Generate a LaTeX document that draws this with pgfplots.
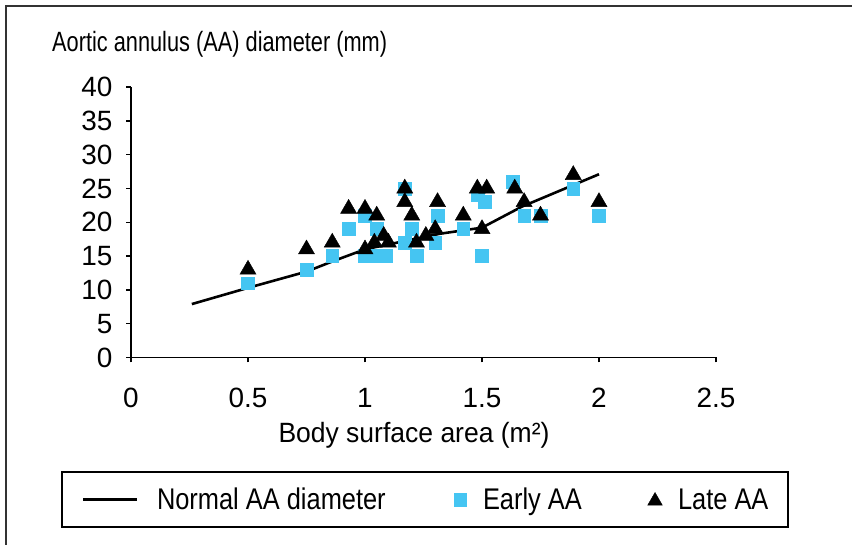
\documentclass[border=0pt]{standalone}
\usepackage{pgfplots}
\pgfplotsset{compat=1.18}
\usepackage{fontspec}
\setmainfont{Liberation Sans}
\newfontfamily\titlefont{Liberation Sans}[FakeStretch=0.78]
\newfontfamily\legfont{Liberation Sans}[FakeStretch=0.85]
\newfontfamily\labfont{Liberation Sans}[FakeStretch=0.95]
\definecolor{early}{RGB}{69,197,242}
\pgfplotsset{
 legline/.style={legend image code/.code={\path[draw=none] (0bp,-27.5bp) rectangle (95bp,27.5bp); \draw[##1] (21bp,0bp) -- (75bp,0bp);}},
 legsq/.style={legend image code/.code={\path[draw=none] (0bp,-27.5bp) rectangle (78bp,27.5bp); \path[##1, line width=0.4bp, mark size=6.3bp] plot coordinates {(55bp,0bp)};}},
 legtri/.style={legend image code/.code={\path[draw=none] (0bp,-27.5bp) rectangle (45bp,27.5bp); \path[##1, line width=0.4bp, mark size=8.5bp] plot coordinates {(22bp,-1.5bp)};}},
}

\begin{document}
\begin{tikzpicture}
\useasboundingbox (0,0) rectangle (852bp,545bp);
\draw[line width=2bp, black!80] (6bp,0) -- (6bp,539bp) -- (852bp,539bp);
\node[anchor=base west, inner sep=0, font=\titlefont\fontsize{28}{30}\selectfont] at (52bp,493bp) {Aortic annulus (AA) diameter (mm)};
\node[anchor=base, inner sep=0, font=\labfont\fontsize{28}{30}\selectfont] at (414bp,102bp) {Body surface area (m²)};
\begin{axis}[
 at={(131bp,187.5bp)}, anchor=south west,
 scale only axis, width=585bp, height=270.5bp,
 xmin=0, xmax=2.5, ymin=0, ymax=40,
 axis lines=left, axis line style={line width=1.5bp, -},
 xtick={0,0.5,1,1.5,2,2.5}, ytick={0,5,...,40},
 tick align=outside, major tick length=5bp, tick style={line width=1.5bp, black},
 ticklabel style={font=\fontsize{28}{30}\selectfont},
 xticklabel style={yshift=-22bp},
 yticklabel style={xshift=-10bp},
 /pgf/number format/assume math mode=true,
 clip=false,
 legend columns=3,
 legend style={at={(-0.1179,-0.4233)}, anchor=north west, draw=black, line width=1.6bp,
   inner sep=0pt, outer sep=0pt, column sep=0pt, row sep=0pt,
   nodes={draw=none, inner sep=0pt, outer sep=0pt, anchor=west, font=\legfont\fontsize{30}{32}\selectfont}},
]
\addplot[black, line width=2.6bp, legline]
 coordinates {(0.26,7.9) (0.5,10.3) (0.75,12.7) (0.86,14.2) (1.0,16.0) (1.32,18.3) (1.5,19.2) (1.67,22.3) (2.0,27.1)};
\addlegendentry{\makebox[248bp][l]{Normal AA diameter}}
\addplot[only marks, color=early, mark=square*, mark size=6.4bp, line width=0.4bp, legsq]
 coordinates {(0.5,11) (0.75,13) (0.86,15) (0.93,19) (1.0,21) (1.0,15) (1.05,15) (1.09,15) (1.05,19) (1.17,25) (1.17,17) (1.2,19) (1.22,15) (1.3,17) (1.31,21) (1.42,19) (1.48,24) (1.51,23) (1.5,15) (1.63,26) (1.68,21) (1.75,21) (1.89,25) (2.0,21)};
\addlegendentry{\makebox[150bp][l]{Early AA}}
\addplot[only marks, color=black, mark=triangle*, mark size=9.3bp, line width=0.4bp, legtri]
 coordinates {(0.5,13) (0.75,16) (0.86,17) (0.93,22) (1.0,22) (1.0,16) (1.04,17) (1.05,21) (1.08,18) (1.1,17) (1.17,25) (1.17,23) (1.2,21) (1.22,17) (1.26,18) (1.3,19) (1.31,23) (1.42,21) (1.48,25) (1.52,25) (1.5,19) (1.64,25) (1.68,23) (1.75,21) (1.89,27) (2.0,23)};
\addlegendentry{\makebox[110bp][l]{Late AA}}
\end{axis}
\end{tikzpicture}
\end{document}
